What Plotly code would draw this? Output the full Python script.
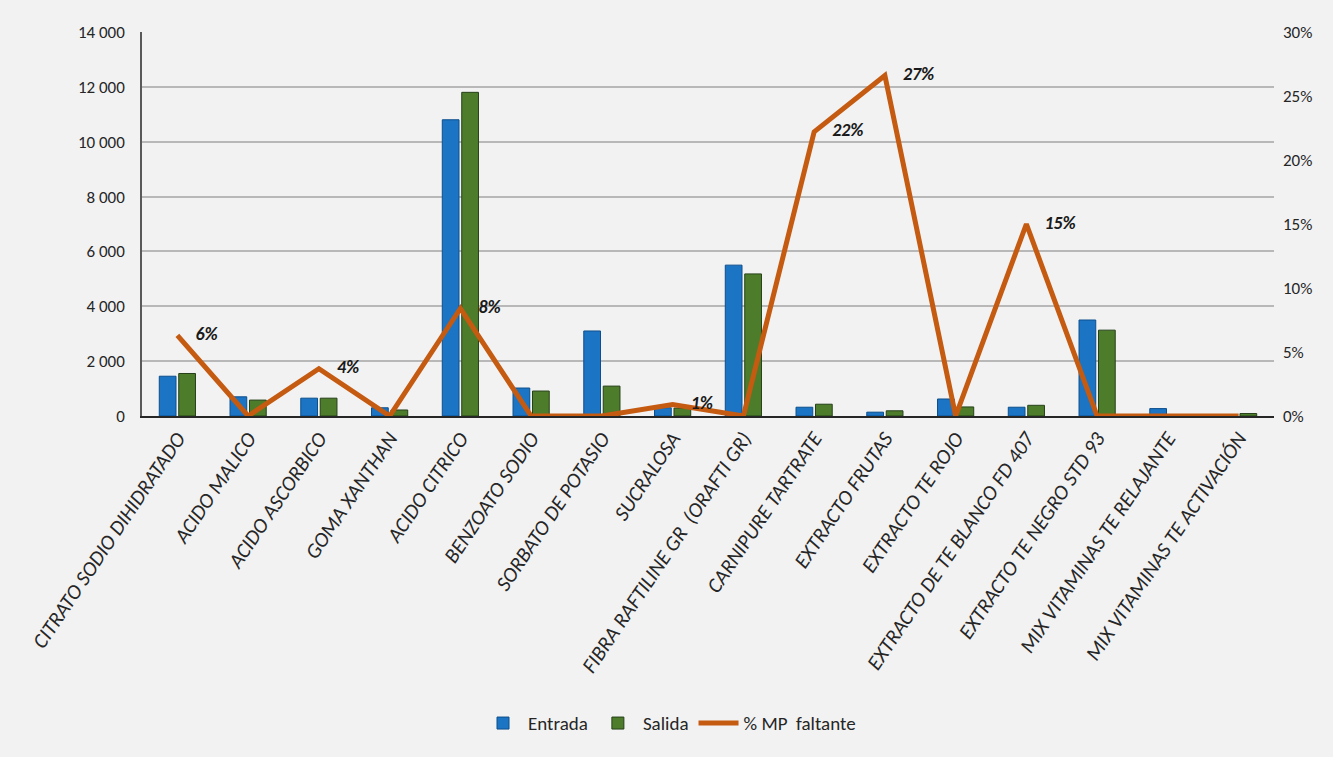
import plotly.graph_objects as go

categories = [
    "CITRATO SODIO DIHIDRATADO", "ACIDO MALICO", "ACIDO ASCORBICO", "GOMA XANTHAN",
    "ACIDO CITRICO", "BENZOATO SODIO", "SORBATO DE POTASIO", "SUCRALOSA",
    "FIBRA RAFTILINE GR  (ORAFTI GR)", "CARNIPURE TARTRATE", "EXTRACTO FRUTAS",
    "EXTRACTO TE ROJO", "EXTRACTO DE TE BLANCO FD 407", "EXTRACTO TE NEGRO STD 93",
    "MIX VITAMINAS TE RELAJANTE", "MIX VITAMINAS TE ACTIVACIÓN",
]
entrada = [1450, 700, 650, 300, 10800, 1020, 3100, 300, 5500, 320, 140, 620, 320, 3500, 270, 40]
salida = [1550, 580, 650, 220, 11800, 910, 1090, 290, 5180, 430, 190, 330, 390, 3130, 20, 90]
faltante = [6.3, 0, 3.7, 0, 8.4, 0, 0, 0.9, 0, 22.2, 26.6, 0, 15.0, 0, 0, 0]
faltante_labels = ["6%", "", "4%", "", "8%", "", "", "1%", "", "22%", "27%", "", "15%", "", "", ""]

FONT = "Carlito, Lato, Liberation Sans, sans-serif"

fig = go.Figure()
fig.add_trace(go.Bar(
    x=categories, y=entrada, name="Entrada",
    marker=dict(color="#1b74c4", line=dict(color="#0d4f8c", width=1)),
))
fig.add_trace(go.Bar(
    x=categories, y=salida, name="Salida",
    marker=dict(color="#4d7d2b", line=dict(color="#26401a", width=1)),
))
fig.add_trace(go.Scatter(
    x=categories, y=faltante, name="% MP  faltante", yaxis="y2",
    mode="lines+text", text=["\u2003" + t if t else "" for t in faltante_labels],
    textposition="middle right",
    textfont=dict(family=FONT, size=18, color="#1a1a1a", weight="bold", style="italic"),
    line=dict(color="#c55a11", width=5),
))

fig.update_layout(
    width=1333, height=757,
    paper_bgcolor="#f2f2f2", plot_bgcolor="#f2f2f2",
    margin=dict(l=142, r=59, t=32, b=341),
    separators=", ",
    barmode="group", bargap=0.45, bargroupgap=0.14,
    font=dict(family=FONT, size=16, color="#262626"),
    xaxis=dict(
        range=[-0.5, 15.5],
        tickangle=-56, tickfont=dict(family=FONT, size=21, style="italic", color="#262626"),
        showline=True, linecolor="#262626", linewidth=1.5, ticks="",
        showgrid=False, ticklabelstandoff=0,
    ),
    yaxis=dict(
        range=[0, 14000], dtick=2000, tickformat=",.0f",
        showgrid=True, gridcolor="#b8b8b8", gridwidth=1.5,
        showline=True, linecolor="#595959", linewidth=1.5,
        ticks="", zeroline=False, ticklabelstandoff=12,
        tickfont=dict(family=FONT, size=17, color="#262626"),
    ),
    yaxis2=dict(
        range=[0, 30], dtick=5, ticksuffix="%", overlaying="y", side="right",
        showgrid=False, zeroline=False, showline=False, ticklabelstandoff=8,
        tickfont=dict(family=FONT, size=17, color="#262626"),
    ),
    legend=dict(
        orientation="h", x=0.466, xanchor="center", y=-0.8, yanchor="middle",
        itemwidth=40,
        font=dict(family=FONT, size=19, color="#262626"), bgcolor="rgba(0,0,0,0)",
    ),
    showlegend=True,
)

fig.write_html("out.html")
